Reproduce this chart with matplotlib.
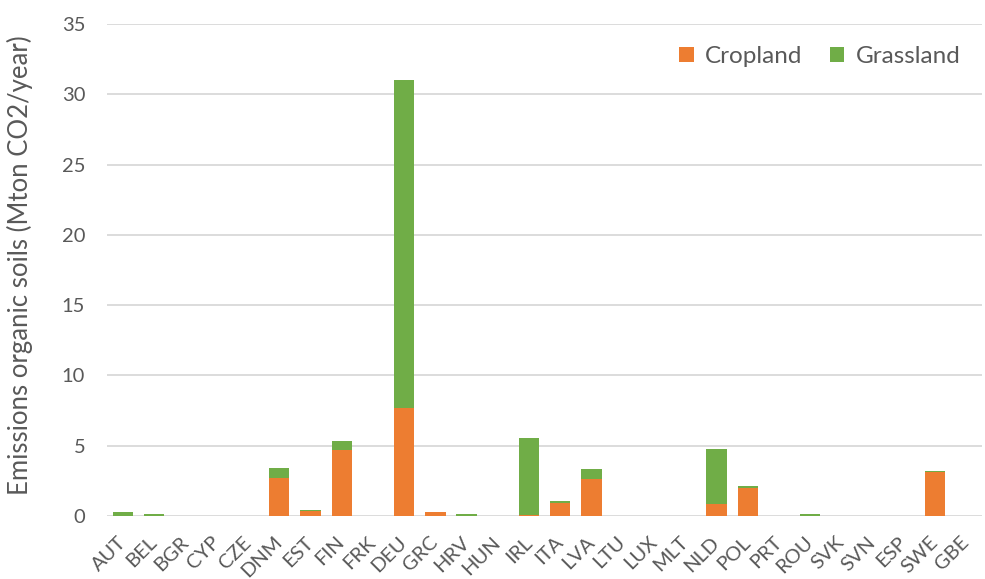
import matplotlib
matplotlib.use("Agg")
import matplotlib.pyplot as plt
import matplotlib.transforms as mtransforms
import numpy as np

countries = ["AUT", "BEL", "BGR", "CYP", "CZE", "DNM", "EST", "FIN", "FRK", "DEU",
             "GRC", "HRV", "HUN", "IRL", "ITA", "LVA", "LTU", "LUX", "MLT", "NLD",
             "POL", "PRT", "ROU", "SVK", "SVN", "ESP", "SWE", "GBE"]
cropland = [0.0, 0.0, 0.0, 0.0, 0.0, 2.7, 0.35, 4.7, 0.0, 7.7,
            0.25, 0.0, 0.0, 0.05, 0.95, 2.6, 0.0, 0.0, 0.0, 0.85,
            1.95, 0.0, 0.0, 0.0, 0.0, 0.0, 3.15, 0.0]
grassland = [0.25, 0.15, 0.0, 0.0, 0.0, 0.7, 0.1, 0.63, 0.0, 23.3,
             0.0, 0.15, 0.0, 5.5, 0.1, 0.72, 0.0, 0.0, 0.0, 3.92,
             0.17, 0.0, 0.15, 0.0, 0.0, 0.0, 0.07, 0.0]

plt.rcParams["font.family"] = ["Lato", "DejaVu Sans"]
text_color = "#595959"
fs = 14.5

fig = plt.figure(figsize=(9.85, 5.79), dpi=100)
ax = fig.add_axes([0.109, 0.109, 0.888, 0.8495])

x = np.arange(len(countries))
w = 0.65
ax.bar(x, cropland, w, color="#ED7D31", linewidth=0, label="Cropland", zorder=3)
ax.bar(x, grassland, w, bottom=cropland, color="#70AD47", linewidth=0,
       label="Grassland", zorder=3)

ax.set_ylim(0, 35)
ax.set_yticks(range(0, 36, 5))
ax.set_xlim(-0.5, len(countries) - 0.5)
ax.set_xticks(x)
ax.set_xticklabels(countries, rotation=45, ha="right", va="center",
                   rotation_mode="anchor")
shift = mtransforms.ScaledTranslation(-1 / 72, 0, fig.dpi_scale_trans)
for lbl in ax.get_xticklabels():
    lbl.set_transform(lbl.get_transform() + shift)
ax.tick_params(axis="both", length=0, labelsize=fs, colors=text_color)
ax.tick_params(axis="x", pad=17)
ax.tick_params(axis="y", pad=16)
ax.grid(axis="y", color="#D9D9D9", linewidth=1.3, zorder=0)
for s in ax.spines.values():
    s.set_visible(False)

ax.set_ylabel("Emissions organic soils (Mton CO2/year)", fontsize=18.5, color=text_color)
ax.yaxis.set_label_coords(-0.085, 0.51)

leg = ax.legend(loc="upper right", bbox_to_anchor=(1.0, 1.0), ncol=2, frameon=False,
                fontsize=17.5, handlelength=0.6, handleheight=0.6, columnspacing=1.15,
                handletextpad=0.45)
for t in leg.get_texts():
    t.set_color(text_color)

fig.savefig("out.png", dpi=100)
